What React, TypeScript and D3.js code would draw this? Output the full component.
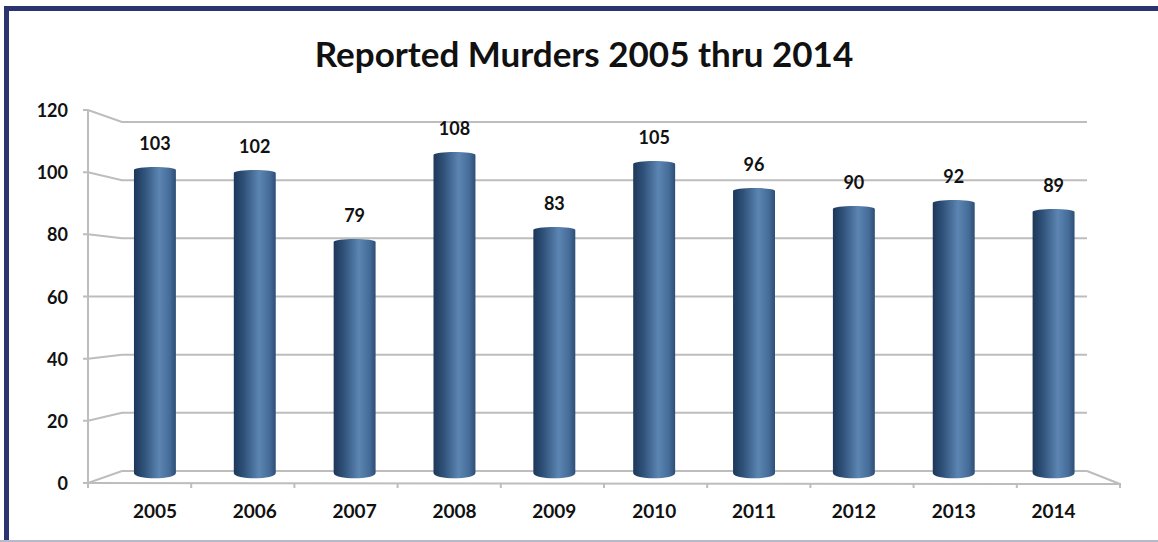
import React from "react";
import * as d3 from "d3";

const years = ["2005", "2006", "2007", "2008", "2009", "2010", "2011", "2012", "2013", "2014"];
const murders = [103, 102, 79, 108, 83, 105, 96, 90, 92, 89];
const yTicks = [0, 20, 40, 60, 80, 100, 120];
const title = "Reported Murders 2005 thru 2014";

const W = 1158;
const H = 542;
const FONT = "Lato, 'Open Sans', 'DejaVu Sans', sans-serif";

export default function App() {
  // front plane (axis), back wall, and mid-depth (bars)
  const frontY = d3.scaleLinear().domain([0, 120]).range([483, 110]);
  const backY = d3.scaleLinear().domain([0, 120]).range([471, 122]);
  const barY = d3.scaleLinear().domain([0, 120]).range([476, 116]);
  const frontX = d3.scaleBand<string>().domain(years).range([88, 1120]);
  const backX = d3.scaleBand<string>().domain(years).range([122, 1087]);
  const barX = d3.scaleBand<string>().domain(years).range([105, 1103.5]).paddingInner(0.58).paddingOuter(0.29);

  const frontLeft = frontX.range()[0];
  const frontRight = frontX.range()[1];
  const backLeft = backX.range()[0];
  const backRight = backX.range()[1];
  const bw = barX.bandwidth();
  const ry = 3;

  const barPath = (x: number, yTop: number, yBot: number) => {
    const p = d3.path();
    p.moveTo(x, yTop + ry);
    p.bezierCurveTo(x, yTop - ry * 0.33, x + bw, yTop - ry * 0.33, x + bw, yTop + ry);
    p.lineTo(x + bw, yBot - ry);
    p.bezierCurveTo(x + bw, yBot + ry * 1.33, x, yBot + ry * 1.33, x, yBot - ry);
    p.closePath();
    return p.toString();
  };

  return (
    <svg
      width={W}
      height={H}
      viewBox={`0 0 ${W} ${H}`}
      style={{ position: "absolute", left: 0, top: 0, background: "#fff" }}
    >
      <defs>
        <linearGradient id="cyl" x1="0" x2="1" y1="0" y2="0">
          <stop offset="0" stopColor="#1d3759" />
          <stop offset="0.25" stopColor="#30537b" />
          <stop offset="0.6" stopColor="#5c85b2" />
          <stop offset="0.85" stopColor="#466d99" />
          <stop offset="1" stopColor="#2d4e76" />
        </linearGradient>
      </defs>

      {/* frame */}
      <rect x={4} y={6} width={W} height={5} fill="#2b3370" />
      <rect x={4} y={6} width={5} height={H} fill="#2b3370" />
      <rect x={0} y={540} width={W} height={2} fill="#b8b8cc" />

      {/* title */}
      <text x={584} y={67} textAnchor="middle" fontFamily={FONT} fontWeight={700} fontSize={35} fill="#111">
        {title}
      </text>

      {/* grid lines with perspective side wall */}
      {yTicks.map((t) => (
        <path
          key={"g" + t}
          d={`M${frontLeft - 5},${frontY(t)} L${frontLeft},${frontY(t)} L${backLeft},${backY(t)} L${backRight},${backY(t)}`}
          fill="none"
          stroke="#bdbdbd"
          strokeWidth={2}
        />
      ))}
      {/* floor front edge and right side */}
      <path
        d={`M${frontLeft},${frontY(0)} L${frontRight},${frontY(0) + 1} L${backRight},${backY(0)}`}
        fill="none"
        stroke="#bdbdbd"
        strokeWidth={2}
      />
      {/* vertical axis */}
      <line x1={frontLeft} x2={frontLeft} y1={frontY(120)} y2={frontY(0) + 5} stroke="#bdbdbd" strokeWidth={2} />
      {/* x ticks */}
      {years.map((yr) => {
        const x = (frontX(yr) as number) + frontX.bandwidth();
        return <line key={"t" + yr} x1={x} x2={x} y1={frontY(0)} y2={frontY(0) + 5} stroke="#bdbdbd" strokeWidth={2} />;
      })}

      {/* y labels */}
      {yTicks.map((t) => (
        <text key={"yl" + t} x={68} y={frontY(t) + 7} textAnchor="end" fontFamily={FONT} fontWeight={700} fontSize={18} fill="#111">
          {t}
        </text>
      ))}

      {/* bars */}
      {years.map((yr, i) => {
        const x = barX(yr) as number;
        return <path key={"b" + yr} d={barPath(x, barY(murders[i]), barY(0))} fill="url(#cyl)" />;
      })}

      {/* value labels */}
      {years.map((yr, i) => (
        <text
          key={"v" + yr}
          x={(barX(yr) as number) + bw / 2}
          y={barY(murders[i]) - 17}
          textAnchor="middle"
          fontFamily={FONT}
          fontWeight={700}
          fontSize={18}
          fill="#111"
        >
          {murders[i]}
        </text>
      ))}

      {/* x labels */}
      {years.map((yr) => (
        <text
          key={"x" + yr}
          x={(barX(yr) as number) + bw / 2}
          y={518}
          textAnchor="middle"
          fontFamily={FONT}
          fontWeight={700}
          fontSize={19}
          fill="#111"
        >
          {yr}
        </text>
      ))}
    </svg>
  );
}
